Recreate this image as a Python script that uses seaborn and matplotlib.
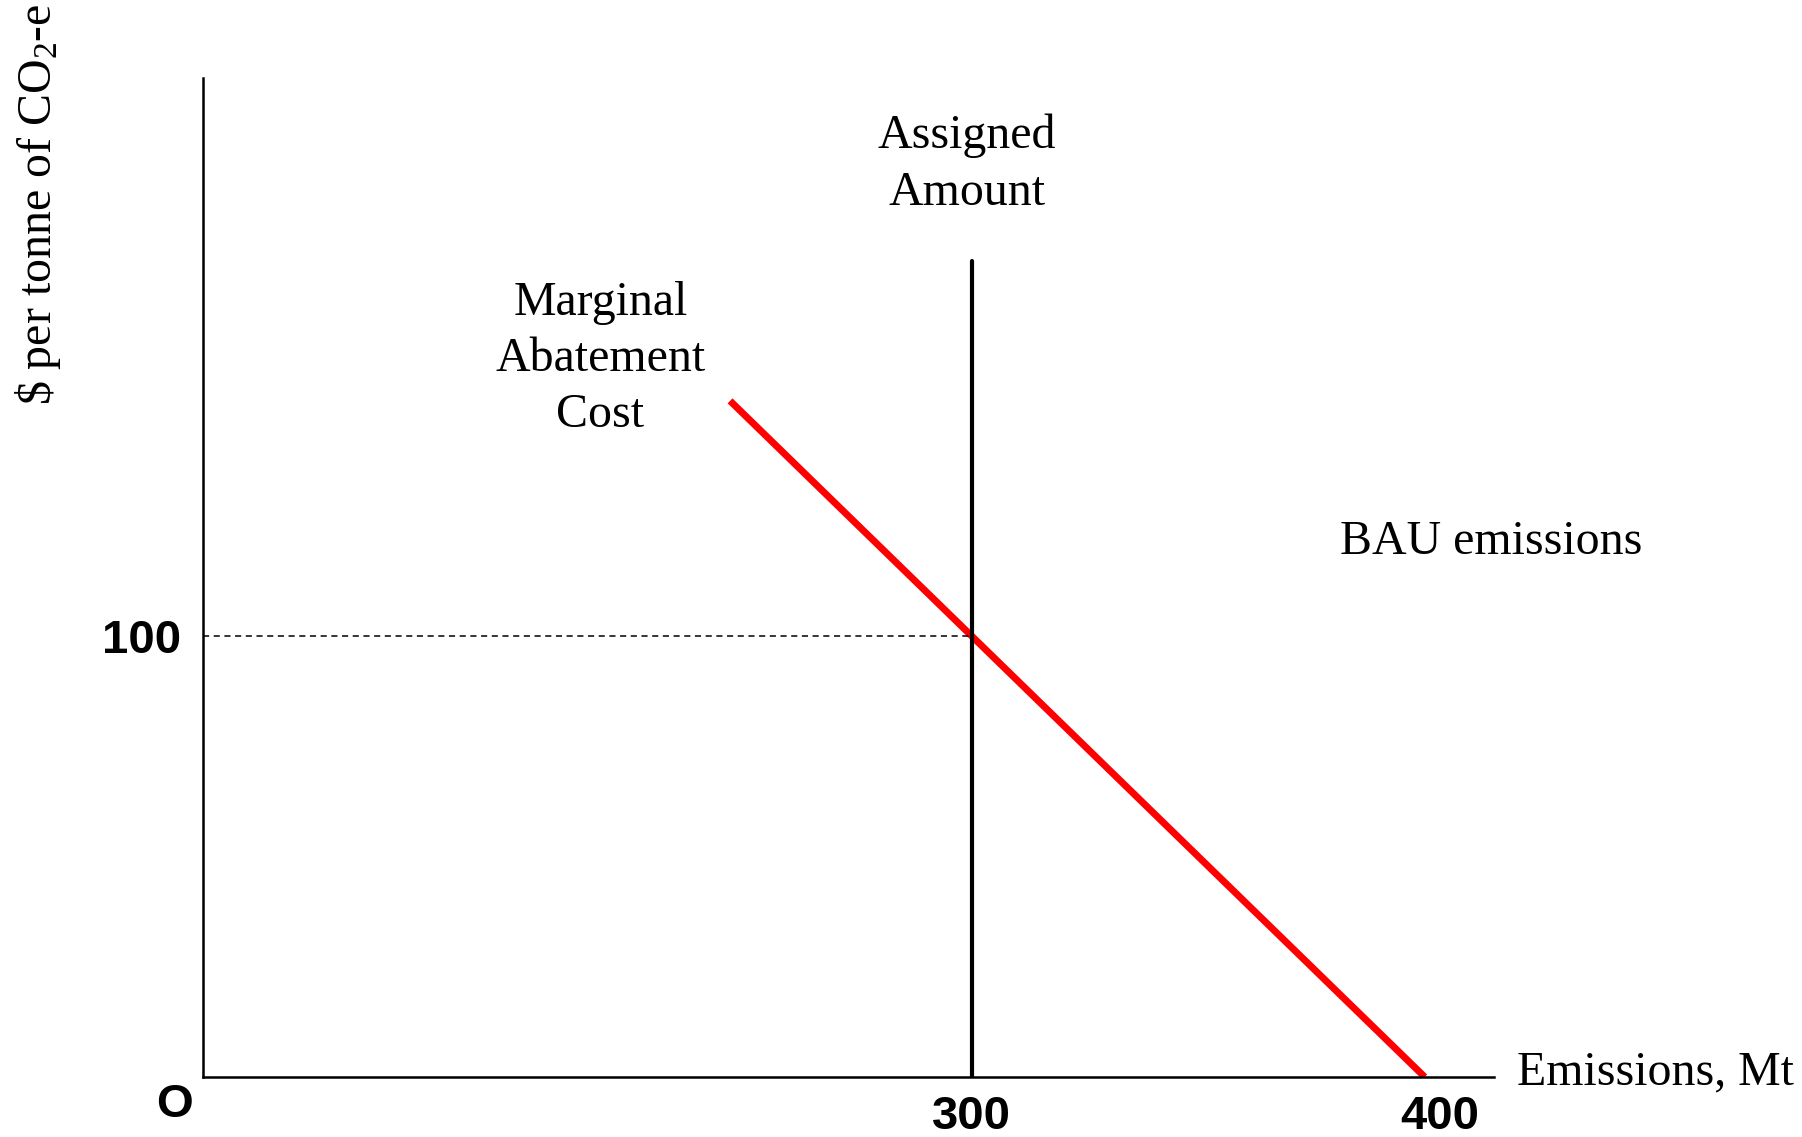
import numpy as np
import pandas as pd
import matplotlib
matplotlib.use('Agg')
import matplotlib.pyplot as plt
import matplotlib.transforms as mtransforms
import seaborn as sns

# Marginal abatement cost curve (schematic)
mac_x = [246.7, 400]
mac_y = [153.3, 0]

assigned_amount = 300
assigned_top = 185
carbon_price = 100

xtick_vals = [300, 400]
xtick_labels = ['300', '400']
ytick_vals = [100]
ytick_labels = ['100']

sns.set_theme(style='white')
plt.rcParams['font.family'] = ['Liberation Serif', 'DejaVu Serif']
plt.rcParams['mathtext.fontset'] = 'custom'
plt.rcParams['mathtext.rm'] = 'Liberation Serif'
plt.rcParams['text.color'] = 'black'
plt.rcParams['axes.labelcolor'] = 'black'

fig = plt.figure(figsize=(18.02, 11.37), dpi=100)
ax = fig.add_axes([0.1127, 0.0528, 0.7164, 0.8786])

df = pd.DataFrame({'emissions': mac_x, 'cost': mac_y})
sns.lineplot(data=df, x='emissions', y='cost', color='#ff0000', linewidth=5,
             solid_capstyle='butt', ax=ax)

ax.plot([assigned_amount, assigned_amount], [0, assigned_top], color='black', linewidth=3)
ax.plot([130.4, assigned_amount], [carbon_price, carbon_price], color='black',
        linewidth=1.1, linestyle=(0, (4, 3)))

ax.set_xlim(130.4, 415.3)
ax.set_ylim(0, 226.5)

for side in ['top', 'right']:
    ax.spines[side].set_visible(False)
for side in ['left', 'bottom']:
    ax.spines[side].set_color('black')
    ax.spines[side].set_linewidth(1.8)

ax.set_xticks(xtick_vals)
ax.set_xticklabels(xtick_labels, fontfamily='Liberation Sans', fontweight='bold', fontsize=34)
ax.set_yticks(ytick_vals)
ax.set_yticklabels(ytick_labels, fontfamily='Liberation Sans', fontweight='bold', fontsize=34)
ax.tick_params(axis='x', length=0, pad=13, colors='black')
ax.tick_params(axis='y', length=0, pad=16, colors='black')
# the 400 label sits a little right of its tick in the original
shift = mtransforms.ScaledTranslation(0.15, 0, fig.dpi_scale_trans)
lbl = ax.get_xticklabels()[1]
lbl.set_transform(lbl.get_transform() + shift)
ax.set_xlabel('')
ax.set_ylabel('')

ax.text(-0.1278, 0.874, '\\$ per tonne of CO$\\mathregular{_2}$-e', fontsize=34.5,
        rotation=90, ha='center', va='center', transform=ax.transAxes, clip_on=False)

ax.text(124.2, -6.3, 'O', fontfamily='Liberation Sans', fontweight='bold', fontsize=34,
        ha='center', va='center', clip_on=False)
ax.text(299, 207, 'Assigned\nAmount', fontsize=34.5, ha='center', va='center', linespacing=1.38)
ax.text(218.1, 162.8, 'Marginal\nAbatement\nCost', fontsize=34.5, ha='center', va='center',
        linespacing=1.36)
ax.text(381.4, 121.3, 'BAU emissions', fontsize=34.5, ha='left', va='center')
ax.text(420.4, 1.1, 'Emissions, Mt', fontsize=34.5, ha='left', va='center', clip_on=False)

fig.savefig('out.png', dpi=100, facecolor='white')
